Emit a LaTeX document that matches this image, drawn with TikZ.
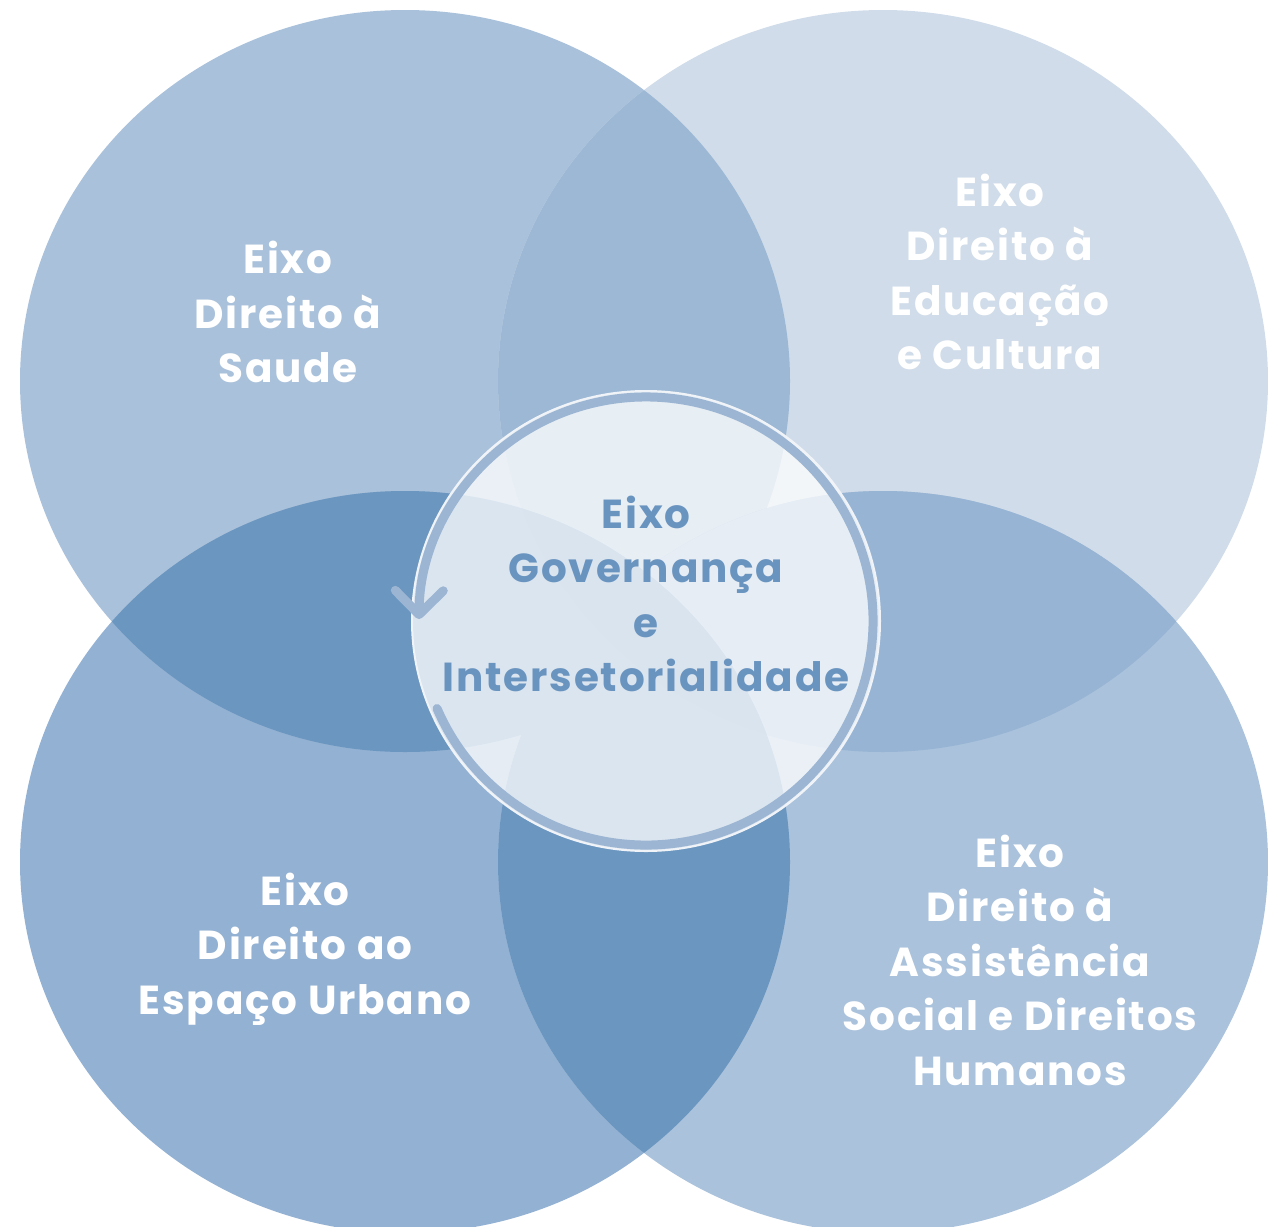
\documentclass[tikz,border=0pt]{standalone}
\usepackage{fontspec}
\setmainfont{Poppins}[LetterSpace=4.5]
\usetikzlibrary{arrows.meta}

\definecolor{saudeblue}{HTML}{A9C1DA}
\definecolor{educblue}{HTML}{D0DCE9}
\definecolor{urbanoblue}{HTML}{93B1D2}
\definecolor{assistblue}{HTML}{AAC2DC}
\definecolor{lenstop}{HTML}{9CB8D5}
\definecolor{lensright}{HTML}{97B4D4}
\definecolor{lensdark}{HTML}{6B96C0}
\definecolor{lenscross}{HTML}{6390BD}
\definecolor{ringblue}{HTML}{9BB5D2}
\definecolor{govtext}{HTML}{6A94C0}

\tikzset{
    eixo/.style={x radius=385pt, y radius=371pt},
    miolo/.style={x radius=234pt, y radius=230pt},
    rotulo/.style={align=center, text=white, font=\bfseries\fontsize{40.5}{54.5}\selectfont},
}

\begin{document}
\begin{tikzpicture}[x=1pt, y=-1pt]
            \useasboundingbox (0,0) rectangle (1268,1226);

            \coordinate (saude) at (405, 381);
            \coordinate (educacao) at (883, 381);
            \coordinate (urbano) at (405, 862);
            \coordinate (assistencia) at (883, 862);
            \coordinate (governanca) at (646, 621);

            \fill[saudeblue] (saude) ellipse[eixo];
            \fill[educblue] (educacao) ellipse[eixo];
            \fill[urbanoblue] (urbano) ellipse[eixo];
            \fill[assistblue] (assistencia) ellipse[eixo];

            \begin{scope}
                \clip (saude) ellipse[eixo];
                \fill[lenstop] (educacao) ellipse[eixo];
                \fill[lensdark] (urbano) ellipse[eixo];
                \fill[lenscross] (assistencia) ellipse[eixo];
            \end{scope}
            \begin{scope}
                \clip (assistencia) ellipse[eixo];
                \fill[lensright] (educacao) ellipse[eixo];
                \fill[lensdark] (urbano) ellipse[eixo];
            \end{scope}
            \begin{scope}
                \clip (educacao) ellipse[eixo];
                \fill[lenscross] (urbano) ellipse[eixo];
            \end{scope}

            \fill[white, fill opacity=0.76] (governanca) ellipse[miolo];
            \draw[white!85!ringblue, line width=2pt] (governanca) ellipse[miolo];
            \draw[ringblue, line width=9pt, line cap=round,
                -{Straight Barb[length=24pt, width=48pt, round]}]
                (governanca) ++(203:227pt and 224pt)
                arc[start angle=203, end angle=539.5, x radius=227pt, y radius=224pt];

            \node[rotulo] (tsaude) at (288, 312) {Eixo\\Direito à\\Saude};
            \node[rotulo] (teducacao) at (1000, 272) {Eixo\\Direito à\\Educação\\e Cultura};
            \node[rotulo] (turbano) at (305, 949) {Eixo\\Direito ao\\Espaço Urbano};
            \node[rotulo] (tassistencia) at (1020, 960) {Eixo\\Direito à\\Assistência\\Social e Direitos\\Humanos};
            \node[rotulo, text=govtext] (tgovernanca) at (646, 594) {Eixo\\Governança\\e\\Intersetorialidade};
\end{tikzpicture}
\end{document}
